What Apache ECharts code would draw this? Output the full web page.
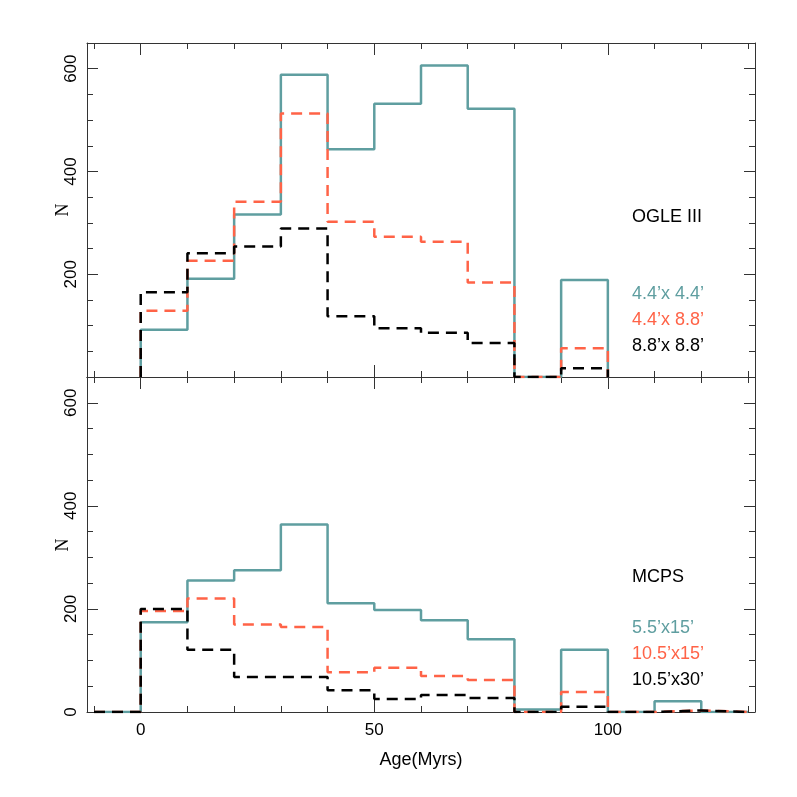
<!DOCTYPE html>
<html><head><meta charset="utf-8">
<script src="https://cdn.jsdelivr.net/npm/echarts@6/dist/echarts.min.js"></script>
<style>html,body{margin:0;padding:0;background:#fff}#c{width:797px;height:797px}</style>
</head><body><div id="c"></div>
<script>
// ---- data ----
const binWidth = 10;
const topBinStart = 0;      // OGLE III bins: 0..100 Myr
const bottomBinStart = -10; // MCPS bins: -10..130 Myr

const ogle44x44 = [92, 191, 316, 588, 443, 532, 606, 522, 0, 189];
const ogle44x88 = [129, 226, 341, 513, 302, 273, 263, 184, 0, 56];
const ogle88x88 = [165, 241, 254, 289, 118, 95, 86, 66, 0, 17];

const mcps55x15  = [0, 174, 255, 275, 364, 211, 198, 178, 141, 5, 121, 0, 21, 0];
const mcps105x15 = [0, 196, 220, 170, 165, 77, 86, 70, 62, 0, 39, 0, 3, 0];
const mcps105x30 = [0, 200, 121, 68, 68, 42, 25, 33, 27, 0, 10, 0, 3, 0];

const xMajorTicks = [0, 50, 100];
const xMinorTicks = [-10, 10, 20, 30, 40, 60, 70, 80, 90, 110, 120, 130];
const yMajorTicks = [200, 400, 600];
const yMinorTicks = [50, 100, 150, 250, 300, 350, 450, 500, 550];
const topYLabels = [200, 400, 600];
const bottomYLabels = [0, 200, 400, 600];
const xLabels = [0, 50, 100];

const yTitle = 'N';
const xTitle = 'Age(Myrs)';
const topTitle = 'OGLE III';
const topNames = ['4.4\u2019x 4.4\u2019', '4.4\u2019x 8.8\u2019', '8.8\u2019x 8.8\u2019'];
const bottomTitle = 'MCPS';
const bottomNames = ['5.5\u2019x15\u2019', '10.5\u2019x15\u2019', '10.5\u2019x30\u2019'];

// ---- styling ----
const TEAL = '#5F9EA0', RED = '#FF6347', BLACK = '#000000';
const AX = '#333333';
const SANS = '"Liberation Sans", Arial, sans-serif';
const SERIF = '"Liberation Serif", "Times New Roman", serif';
const XMIN = -11.5, XMAX = 131.5, YMIN = 0, YMAX = 650;

function hist(start, vals) {
  const pts = [[start, 0]];
  vals.forEach((v, i) => {
    const x0 = start + i * binWidth;
    pts.push([x0, v], [x0 + binWidth, v]);
  });
  pts.push([start + vals.length * binWidth, 0]);
  return pts;
}

function xAxes(grid, showLabels) {
  const base = {gridIndex: grid, type: 'value', min: XMIN, max: XMAX, splitLine: {show: false}};
  return [
    Object.assign({}, base, {position: 'bottom',
      axisLine: {show: true, onZero: false, lineStyle: {color: AX, width: 1}},
      axisTick: {show: true, inside: true, length: 12, customValues: xMajorTicks, lineStyle: {color: AX}},
      axisLabel: showLabels ? {show: true, customValues: xLabels, margin: 10, fontSize: 17, fontFamily: SANS, color: '#000'} : {show: false},
      name: showLabels ? xTitle : '', nameLocation: 'middle', nameGap: 39,
      nameTextStyle: {fontSize: 18, fontFamily: SANS, color: '#000'}}),
    Object.assign({}, base, {position: 'bottom',
      axisLine: {show: false, onZero: false},
      axisTick: {show: true, inside: true, length: 6, customValues: xMinorTicks, lineStyle: {color: AX}},
      axisLabel: {show: false}}),
    Object.assign({}, base, {position: 'top',
      axisLine: {show: true, onZero: false, lineStyle: {color: AX, width: 1}},
      axisTick: {show: true, inside: true, length: 12, customValues: xMajorTicks, lineStyle: {color: AX}},
      axisLabel: {show: false}}),
    Object.assign({}, base, {position: 'top',
      axisLine: {show: false, onZero: false},
      axisTick: {show: true, inside: true, length: 6, customValues: xMinorTicks, lineStyle: {color: AX}},
      axisLabel: {show: false}})
  ];
}

function yAxes(grid, labels) {
  const base = {gridIndex: grid, type: 'value', min: YMIN, max: YMAX, splitLine: {show: false}};
  return [
    Object.assign({}, base, {position: 'left',
      axisLine: {show: true, onZero: false, lineStyle: {color: AX, width: 1}},
      axisTick: {show: true, inside: true, length: 11, customValues: yMajorTicks, lineStyle: {color: AX}},
      axisLabel: {show: true, customValues: labels, rotate: 90, margin: 7, fontSize: 17, fontFamily: SANS, color: '#000'}}),
    Object.assign({}, base, {position: 'left',
      axisLine: {show: false, onZero: false},
      axisTick: {show: true, inside: true, length: 6, customValues: yMinorTicks, lineStyle: {color: AX}},
      axisLabel: {show: false}}),
    Object.assign({}, base, {position: 'right',
      axisLine: {show: true, onZero: false, lineStyle: {color: AX, width: 1}},
      axisTick: {show: true, inside: true, length: 11, customValues: yMajorTicks, lineStyle: {color: AX}},
      axisLabel: {show: false}}),
    Object.assign({}, base, {position: 'right',
      axisLine: {show: false, onZero: false},
      axisTick: {show: true, inside: true, length: 6, customValues: yMinorTicks, lineStyle: {color: AX}},
      axisLabel: {show: false}})
  ];
}

function ser(grid, start, vals, color, dashed) {
  return {
    type: 'line', xAxisIndex: grid * 4, yAxisIndex: grid * 4,
    data: hist(start, vals), symbol: 'none', silent: true,
    lineStyle: {color: color, width: 2.5, type: dashed ? [11, 7] : 'solid'},
    animation: false
  };
}

function txt(x, y, s, color) {
  return {type: 'text', x: x, y: y, silent: true,
    style: {text: s, fill: color, font: '18px ' + SANS, verticalAlign: 'middle', align: 'left'}};
}
function ytxt(x, y, s) {
  return {type: 'text', x: x, y: y, rotation: Math.PI / 2, silent: true,
    style: {text: s, fill: '#000', font: '18px ' + SERIF, verticalAlign: 'middle', align: 'center'}};
}

const option = {
  backgroundColor: '#fff',
  animation: false,
  grid: [
    {left: 87, right: 42, top: 43, height: 334},
    {left: 87, right: 42, top: 377, height: 335}
  ],
  xAxis: xAxes(0, false).concat(xAxes(1, true)),
  yAxis: yAxes(0, topYLabels).concat(yAxes(1, bottomYLabels)),
  series: [
    ser(0, topBinStart, ogle44x44, TEAL, false),
    ser(0, topBinStart, ogle44x88, RED, true),
    ser(0, topBinStart, ogle88x88, BLACK, true),
    ser(1, bottomBinStart, mcps55x15, TEAL, false),
    ser(1, bottomBinStart, mcps105x15, RED, true),
    ser(1, bottomBinStart, mcps105x30, BLACK, true)
  ],
  graphic: [
    ytxt(63, 210, yTitle),
    ytxt(63, 545, yTitle),
    txt(632, 217, topTitle, '#000'),
    txt(632, 294, topNames[0], TEAL),
    txt(632, 320, topNames[1], RED),
    txt(632, 346, topNames[2], '#000'),
    txt(632, 577, bottomTitle, '#000'),
    txt(632, 628, bottomNames[0], TEAL),
    txt(632, 654, bottomNames[1], RED),
    txt(632, 680, bottomNames[2], '#000')
  ]
};

const chart = echarts.init(document.getElementById('c'), null, {renderer: 'canvas'});
chart.setOption(option);
</script></body></html>
